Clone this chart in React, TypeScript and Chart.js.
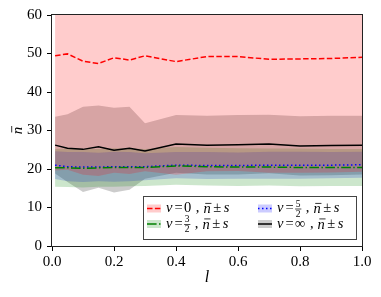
import React, { useEffect, useRef } from "react";
import { Chart, registerables } from "chart.js";

Chart.register(...registerables);

// ---- data ----
const lValues = [0.01, 0.05, 0.1, 0.15, 0.2, 0.25, 0.3, 0.4, 0.5, 0.6, 0.7, 0.8, 0.9, 1.0];

const meanNu0 = [49.4, 49.9, 48.0, 47.4, 48.9, 48.3, 49.4, 47.9, 49.2, 49.2, 48.5, 48.6, 48.7, 49.0];
const sdNu0 = [29.8, 30.1, 29.5, 29.2, 29.9, 29.6, 30.0, 29.4, 29.8, 29.7, 29.5, 29.6, 29.6, 29.7];

const meanNu32 = [20.3, 20.3, 20.2, 20.3, 20.4, 20.4, 20.4, 20.8, 20.6, 20.5, 20.5, 20.4, 20.4, 20.4];
const sdNu32 = [4.9, 5.0, 5.0, 4.9, 5.0, 4.9, 4.8, 4.9, 4.9, 4.9, 4.8, 4.9, 4.8, 4.8];

const meanNu52 = [21.0, 20.6, 20.5, 20.5, 20.6, 20.6, 20.6, 21.0, 20.9, 20.9, 21.0, 21.0, 21.0, 21.1];
const sdNu52 = [3.6, 3.8, 3.9, 3.7, 3.9, 3.8, 3.5, 3.4, 3.5, 3.4, 3.5, 3.5, 3.4, 3.4];

const meanNuInf = [26.2, 25.4, 25.1, 25.8, 24.9, 25.4, 24.7, 26.5, 26.2, 26.3, 26.5, 26.0, 26.1, 26.2];
const sdNuInf = [7.4, 8.8, 11.1, 10.7, 11.0, 10.8, 7.2, 7.5, 7.6, 7.7, 7.6, 7.7, 7.7, 7.6];

const nuLabels = ["0", "3/2", "5/2", "∞"];
const xTickStep = 0.2;
const yTickStep = 10;

const SERIF = '"Liberation Serif", "DejaVu Serif", serif';

type Series = {
  nu: string;
  mean: number[];
  sd: number[];
  line: string;
  band: string;
  dash: number[];
};

const series: Series[] = [
  { nu: nuLabels[0], mean: meanNu0, sd: sdNu0, line: "#ff0000", band: "rgba(255,0,0,0.2)", dash: [5.5, 2.4] },
  { nu: nuLabels[1], mean: meanNu32, sd: sdNu32, line: "#008000", band: "rgba(0,128,0,0.2)", dash: [9.6, 2.4, 1.5, 2.4] },
  { nu: nuLabels[2], mean: meanNu52, sd: sdNu52, line: "#0000ff", band: "rgba(0,0,255,0.2)", dash: [1.5, 2.5] },
  { nu: nuLabels[3], mean: meanNuInf, sd: sdNuInf, line: "#000000", band: "rgba(0,0,0,0.2)", dash: [] },
];

// italic n with an over-bar
function drawNBar(ctx: CanvasRenderingContext2D, x: number, y: number, size: number) {
  ctx.font = `italic ${size}px ${SERIF}`;
  ctx.fillText("n", x, y);
  const w = ctx.measureText("n").width;
  ctx.save();
  ctx.strokeStyle = "#000";
  ctx.lineWidth = 0.8;
  ctx.beginPath();
  ctx.moveTo(x + 0.12 * size, y - 0.42 * size);
  ctx.lineTo(x + w + 0.05 * size, y - 0.42 * size);
  ctx.stroke();
  ctx.restore();
  return w;
}

function drawLabel(ctx: CanvasRenderingContext2D, x0: number, y: number, nu: string) {
  let x = x0;
  const fs = 14.5;
  const it = `italic ${fs}px ${SERIF}`;
  const up = `${fs}px ${SERIF}`;
  ctx.textBaseline = "middle";
  ctx.textAlign = "left";
  ctx.fillStyle = "#000";
  const put = (t: string, font: string, gap: number) => {
    ctx.font = font;
    ctx.fillText(t, x, y);
    x += ctx.measureText(t).width + gap;
  };
  put("ν", it, 2);
  put("=", up, 1.5);
  if (nu.includes("/")) {
    const [a, b] = nu.split("/");
    ctx.font = `9.5px ${SERIF}`;
    const w = Math.max(ctx.measureText(a).width, ctx.measureText(b).width) + 1.5;
    ctx.textAlign = "center";
    ctx.fillText(a, x + w / 2, y - 4.5);
    ctx.fillText(b, x + w / 2, y + 5.5);
    ctx.strokeStyle = "#000";
    ctx.lineWidth = 0.7;
    ctx.beginPath();
    ctx.moveTo(x, y + 0.5);
    ctx.lineTo(x + w, y + 0.5);
    ctx.stroke();
    ctx.textAlign = "left";
    x += w + 4.5;
  } else {
    put(nu, up, 4.5);
  }
  put(",", up, 4);
  x += drawNBar(ctx, x, y + 1, fs) + 2.5;
  put("±", up, 2.5);
  put("s", it, 0);
}

const decorPlugin = {
  id: "decor",
  afterDatasetsDraw(chart: any) {
    const { ctx, chartArea } = chart;
    const { left, top, right, bottom } = chartArea;
    ctx.save();
    // frame
    ctx.strokeStyle = "#222";
    ctx.lineWidth = 1;
    ctx.strokeRect(left - 0.5, top - 0.5, right - left + 1, bottom - top + 1);

    // legend box
    const bx = 143.5, by = 196.5, bw = 213, bh = 43;
    ctx.fillStyle = "#ffffff";
    ctx.fillRect(bx, by, bw, bh);
    ctx.strokeStyle = "#444";
    ctx.lineWidth = 1;
    ctx.strokeRect(bx, by, bw, bh);

    const cols = [147, 258];
    const rows = [208.5, 224];
    series.forEach((s, i) => {
      const hx = cols[Math.floor(i / 2)];
      const hy = rows[i % 2];
      const hw = 14;
      ctx.fillStyle = s.band;
      ctx.fillRect(hx, hy - 4, hw, 8);
      ctx.strokeStyle = s.line;
      ctx.lineWidth = 1.5;
      ctx.setLineDash(s.dash);
      ctx.beginPath();
      ctx.moveTo(hx, hy);
      ctx.lineTo(hx + hw, hy);
      ctx.stroke();
      ctx.setLineDash([]);
      drawLabel(ctx, hx + 19, hy, s.nu);
    });

    // axis titles
    ctx.fillStyle = "#000";
    ctx.textAlign = "center";
    ctx.textBaseline = "middle";
    ctx.font = `italic 16px ${SERIF}`;
    ctx.fillText("l", (left + right) / 2, 278);
    ctx.save();
    ctx.translate(17, (top + bottom) / 2);
    ctx.rotate(-Math.PI / 2);
    ctx.textAlign = "left";
    ctx.font = `italic 15px ${SERIF}`;
    const w = ctx.measureText("n").width;
    drawNBar(ctx, -w / 2, 1, 15);
    ctx.restore();
    ctx.restore();
  },
};

export default function App() {
  const ref = useRef<HTMLCanvasElement | null>(null);

  useEffect(() => {
    document.body.style.margin = "0";
    const canvas = ref.current;
    if (!canvas) return;

    const datasets: any[] = [];
    series.forEach((s) => {
      datasets.push({
        data: lValues.map((x, i) => ({ x, y: s.mean[i] + s.sd[i] })),
        fill: "+1",
        backgroundColor: s.band,
        borderColor: "transparent",
        borderWidth: 0,
        pointRadius: 0,
        order: 2,
      });
      datasets.push({
        data: lValues.map((x, i) => ({ x, y: s.mean[i] - s.sd[i] })),
        fill: false,
        backgroundColor: "transparent",
        borderColor: "transparent",
        borderWidth: 0,
        pointRadius: 0,
        order: 2,
      });
    });
    series.forEach((s, k) => {
      datasets.push({
        data: lValues.map((x, i) => ({ x, y: s.mean[i] })),
        fill: false,
        borderColor: s.line,
        borderWidth: 1.5,
        borderDash: s.dash,
        pointRadius: 0,
        order: k === 3 ? 0 : 1,
      });
    });

    const tickFont = { family: SERIF, size: 15 };
    const chart = new Chart(canvas, {
      type: "line",
      data: { datasets },
      options: {
        animation: false,
        responsive: true,
        maintainAspectRatio: false,
        layout: { padding: { left: 0, right: 19, top: 15, bottom: 0 } },
        plugins: { legend: { display: false }, tooltip: { enabled: false } },
        scales: {
          x: {
            type: "linear",
            min: 0,
            max: 1,
            afterFit: (s: any) => {
              s.height = 51;
            },
            ticks: {
              stepSize: xTickStep,
              callback: (v: any) => Number(v).toFixed(1),
              font: tickFont,
              color: "#000",
              padding: 2,
              maxRotation: 0,
              autoSkip: false,
            },
            grid: { drawOnChartArea: false, drawTicks: true, tickLength: 5, color: "#000" },
            border: { display: false },
          },
          y: {
            min: 0,
            max: 60,
            afterFit: (s: any) => {
              s.width = 52;
            },
            ticks: {
              stepSize: yTickStep,
              font: tickFont,
              color: "#000",
              padding: 5,
            },
            grid: { drawOnChartArea: false, drawTicks: true, tickLength: 5, color: "#000" },
            border: { display: false },
          },
        },
      } as any,
      plugins: [decorPlugin],
    });
    return () => chart.destroy();
  }, []);

  return (
    <div style={{ position: "relative", width: 381, height: 297 }}>
      <canvas ref={ref} />
    </div>
  );
}
